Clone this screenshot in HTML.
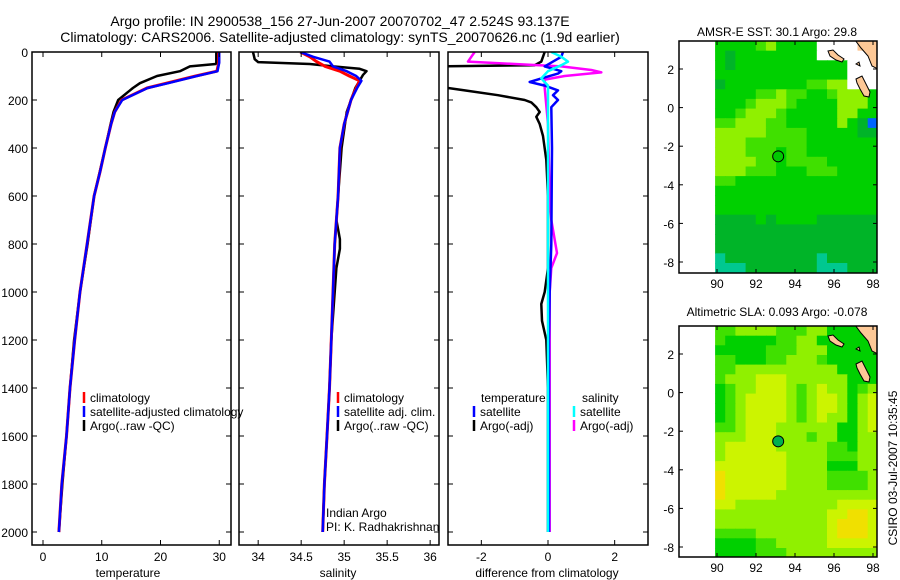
<!DOCTYPE html>
<html><head><meta charset="utf-8"><style>
html,body{margin:0;padding:0;background:#fff;}
svg{display:block;font-family:"Liberation Sans",sans-serif;}
</style></head><body>
<svg id="fig" width="900" height="580" viewBox="0 0 900 580" xmlns="http://www.w3.org/2000/svg">
<text x="340" y="26" font-size="14" text-anchor="middle">Argo profile: IN 2900538_156 27-Jun-2007 20070702_47 2.524S 93.137E</text>
<text x="340" y="42" font-size="14" text-anchor="middle">Climatology: CARS2006. Satellite-adjusted climatology: synTS_20070626.nc (1.9d earlier)</text>
<g id="plots"></g>
<text x="777" y="36" font-size="12" text-anchor="middle">AMSR-E SST: 30.1 Argo: 29.8</text>
<text x="777" y="316" font-size="12" text-anchor="middle">Altimetric SLA: 0.093 Argo: -0.078</text>
<text transform="translate(897,468) rotate(-90)" font-size="12" text-anchor="middle">CSIRO 03-Jul-2007 10:35:45</text>
</svg>
<script>
// ---- profile data ----
const depthsT = [0,45,80,100,130,150,200,250,300,400,500,600,800,1000,1200,1400,1600,1800,2000];
const tempClim = [29.9,29.9,29.6,26,21,17.7,13.4,12.2,11.6,10.6,9.7,8.7,7.5,6.3,5.4,4.6,4.0,3.2,2.7];
const tempSat  = [30.0,30.0,29.7,26.2,21.3,17.8,13.5,12.2,11.6,10.6,9.7,8.7,7.5,6.3,5.4,4.6,4.0,3.2,2.7];
const depthsTA = [0,45,50,60,80,100,130,150,200,250,300,400,600,800,1000,1200,1400,1600,1800,2000];
const tempArgo = [29.5,29.5,29.4,25,23.3,19.4,16.5,15.3,12.8,12.0,11.5,10.6,8.7,7.6,6.3,5.3,4.6,4.0,3.3,2.7];
const depthsS = [0,20,40,60,80,100,120,150,200,300,400,600,800,1000,1200,1400,1600,1800,2000];
const salClim = [34.49,34.6,34.68,34.78,34.95,35.06,35.18,35.14,35.08,35.0,34.95,34.93,34.89,34.87,34.85,34.83,34.8,34.77,34.75];
const salSat  = [34.49,34.64,34.83,34.87,35.03,35.14,35.2,35.15,35.08,35.0,34.95,34.93,34.89,34.87,34.85,34.83,34.8,34.77,34.75];
const depthsSA = [0,30,42,50,60,70,80,95,150,250,400,600,700,780,820,900,1000,1200,1400,1600,1800,2000];
const salArgo = [33.94,33.96,34.0,34.6,34.87,35.18,35.26,35.22,35.13,35.03,34.97,34.93,34.91,34.95,34.95,34.91,34.89,34.85,34.83,34.8,34.77,34.75];
const depthsDT = [0,40,55,60,100,140,150,160,180,200,210,230,250,270,300,350,450,600,900,1000,1050,1120,1200,1400,2000];
const diffTArgo = [-0.1,-0.2,-0.4,-3.5,-3.5,-3.2,-3.0,-2.5,-1.5,-0.7,-0.5,-0.35,-0.25,-0.35,-0.25,-0.15,-0.05,0,0,-0.1,-0.2,-0.18,-0.05,0,0];
const depthsDTS = [0,20,40,60,80,90,110,125,140,160,180,200,230,400,800,1000,1200,2000];
const diffTSat = [0.45,0.4,0.15,-0.1,0.4,0.3,-0.2,-0.55,-0.1,0.3,0.15,0.3,0.1,0.12,0.1,0.05,0.03,0.03];
const depthsDSS = [0,20,40,55,80,110,140,200,600,1000,2000];
const diffSSat = [0.1,0.4,0.6,0.4,0,-0.2,0,0,0,0,0];
const depthsDSA = [0,20,40,50,60,75,85,100,115,150,300,600,700,838,900,1000,1200,2000];
const diffSArgo = [-2.2,-2.3,-2.4,-1.0,0.4,1.3,1.6,0.5,-0.1,-0.1,0,0.05,0.1,0.27,0.1,0.05,0.05,0.05];
const depthTicks = [0,200,400,600,800,1000,1200,1400,1600,1800,2000];
const tempTicks = [0,10,20,30];
const salTicks = [34,34.5,35,35.5,36];
const diffTicks = [-2,0,2];
// ---- map data (0.5 deg rows from 3.45N, 16 cols from 89.9E) ----
const sstRows = ["2222342222WWWWLL","2122222222WWWWWW","2122222222222WWW","2222222222222WWW","1222222223344WWW","2222334332234442","2223444322224442","2234443222224422","3344433222224215","4444433332222211","4443333332222222","4443332332222222","4444332333322222","4443332223332222","3322222222222222","2222222222222222","2222222222222222","2222222222222222","1111212222111111","1111111111111111","1111111111111111","1111111111111111","0111111111011111","0001111111000111"];
const slaRows = ["3344443334422222","3222223344222222","2222233344422222","3322233444322222","3344444444442222","3444555444444222","2344555434544234","2345555434554245","2345555434554245","2345555434544245","3345554444442245","4445554443442244","4555554444433244","4555555444433344","5555555444422244","6555555444433334","6555555444433334","6555554444444444","5544444444445555","4444444444455665","4444444444456665","3333444444456665","2222334444455555","2222333444444444"];
const latTicks = [2,0,-2,-4,-6,-8];
const lonTicks = [90,92,94,96,98];
const argoLon = 93.137, argoLat = -2.524;
</script>
<script>
const NS="http://www.w3.org/2000/svg";
const G=document.getElementById('plots');
function mk(tag,attrs,parent){const e=document.createElementNS(NS,tag);for(const k in attrs)e.setAttribute(k,attrs[k]);(parent||G).appendChild(e);return e;}
function txt(s,x,y,anchor,size,parent){const t=mk('text',{x:x,y:y,'font-size':size||12,'text-anchor':anchor||'start'},parent);t.textContent=s;return t;}
const Y0=52, Y1=545;
function yD(d){return 52+d*0.24;}
function panel(name,x0,x1,xmin,xmax){
  const p={x0,x1,xmin,xmax,fx:v=>x0+(v-xmin)/(xmax-xmin)*(x1-x0)};
  const g=mk('g',{});
  
  
  p.g=g;
  const cp=mk('clipPath',{id:'clip-'+name},g);mk('rect',{x:x0,y:Y0,width:x1-x0,height:Y1-Y0},cp);
  p.lines=mk('g',{'clip-path':'url(#clip-'+name+')'},g);
  const r=mk('rect',{x:x0,y:Y0,width:x1-x0,height:Y1-Y0,fill:'none',stroke:'#000','stroke-width':1.5},g);
  
  
  depthTicks.forEach(d=>{const y=yD(d);mk('line',{x1:x0,x2:x0+5,y1:y,y2:y,stroke:'#000'},g);mk('line',{x1:x1,x2:x1-5,y1:y,y2:y,stroke:'#000'},g);});
  return p;
}
function line(p,ds,vs,color,w,name){
  const pts=ds.map((d,i)=>p.fx(vs[i]).toFixed(1)+','+yD(d).toFixed(1)).join(' ');
  const l=mk('polyline',{points:pts,fill:'none',stroke:color,'stroke-width':w,'stroke-linejoin':'round'},p.lines);
  
  
}
function xticks(p,ticks,label,lx){
  ticks.forEach(t=>{const x=p.fx(t);mk('line',{x1:x,x2:x,y1:Y1,y2:Y1-5,stroke:'#000'},p.g);mk('line',{x1:x,x2:x,y1:Y0,y2:Y0+5,stroke:'#000'},p.g);
    const tl=txt(String(t),x,561,'middle',12,p.g);});
  const al=txt(label,lx,577,'middle',12,p.g);
  
  
}
function legend(p,x,y,color,label){
  mk('line',{x1:x,x2:x,y1:y-10,y2:y+1,stroke:color,'stroke-width':2.5},p.g);
  const t=txt(label,x+6,y,'start',12,p.g);
  
  
}
// temperature panel
const pT=panel('temperature-panel',32,231,-1.87,32.0);
depthTicks.forEach(d=>{const t=txt(String(d),28,yD(d)+5,'end',12,pT.g);});
line(pT,depthsTA,tempArgo,'#000',2.5,'temp-argo-line');
line(pT,depthsT,tempClim,'#f00',3,'temp-climatology-line');
line(pT,depthsT,tempSat,'#00f',2.5,'temp-satellite-line');
xticks(pT,tempTicks,'temperature',128);
legend(pT,84,402,'#f00','climatology');
legend(pT,84,416,'#00f','satellite-adjusted climatology');
legend(pT,84,430,'#000','Argo(..raw -QC)');
// salinity panel
const pS=panel('salinity-panel',239,439,33.777,36.103);
line(pS,depthsSA,salArgo,'#000',2.5,'sal-argo-line');
line(pS,depthsS,salClim,'#f00',3,'sal-climatology-line');
line(pS,depthsS,salSat,'#00f',2.5,'sal-satellite-line');
xticks(pS,salTicks,'salinity',338);
legend(pS,338,402,'#f00','climatology');
legend(pS,338,416,'#00f','satellite adj. clim.');
legend(pS,338,430,'#000','Argo(..raw -QC)');
txt('Indian Argo',326,517,'start',12,pS.g);
txt('PI: K. Radhakrishnan',326,531,'start',12,pS.g);
// difference panel
const pD=panel('difference-panel',448,648,-3.0,3.0);
line(pD,depthsDT,diffTArgo,'#000',2.5,'diff-temp-argo-line');
line(pD,depthsDSA,diffSArgo,'#f0f',2.5,'diff-sal-argo-line');
line(pD,depthsDTS,diffTSat,'#00f',2.5,'diff-temp-satellite-line');
line(pD,depthsDSS,diffSSat,'#0ff',2.5,'diff-sal-satellite-line');
xticks(pD,diffTicks,'difference from climatology',547);
txt('temperature',481,402,'start',12,pD.g);
txt('salinity',582,402,'start',12,pD.g);
legend(pD,474,416,'#00f','satellite');
legend(pD,474,430,'#000','Argo(-adj)');
legend(pD,574,416,'#0ff','satellite');
legend(pD,574,430,'#f0f','Argo(-adj)');
// ---- maps ----
const colors={'0':'#00c890','1':'#00b428','2':'#00d000','3':'#40e000','4':'#90f000','5':'#ccf400','6':'#f0e000','W':'#ffffff','L':'#fdc896'};
function map(name,top,bottom,rows,markerColor){
  const x0=679,x1=877;
  const lonX=lon=>717+(lon-90)*19.5;
  const latY=lat=>(top+28)-(lat-2)*19.3;
  const g=mk('g',{});
  
  
  const cp=mk('clipPath',{id:'clip-'+name},g);mk('rect',{x:x0,y:top,width:x1-x0,height:bottom-top},cp);
  const cg=mk('g',{'clip-path':'url(#clip-'+name+')'},g);
  const dlon=(98.25-89.9)/16;
  rows.forEach((row,j)=>{for(let i=0;i<row.length;i++){
    const lonA=89.9+i*dlon, latA=3.45-j*0.5;
    const xa=lonX(lonA), xb=lonX(lonA+dlon), ya=latY(latA), yb=latY(latA-0.5);
    const c=row[i]==='5'&&name==='sst-map'?'#0064ff':colors[row[i]];
    const r=mk('rect',{x:xa.toFixed(1),y:ya.toFixed(1),width:(xb-xa+0.6).toFixed(1),height:(yb-ya+0.6).toFixed(1),fill:c},cg);
    
    
  }});
  const off=top-41;
  const land=(pts)=>{const p=mk('polygon',{points:pts.map(q=>q[0]+','+(q[1]+off)).join(' '),fill:'#fdc896',stroke:'#000','stroke-width':1},cg);};
  land([[855,40],[878,40],[878,69],[872,66],[868,56],[861,48]]);
  land([[828,51],[833,50],[838,55],[844,59],[842,62],[836,60],[830,56]]);
  land([[856,79],[862,76],[866,84],[870,92],[869,97],[864,96],[860,89],[857,83]]);
  land([[856,64],[859,62],[860,66]]);
  const m=mk('circle',{cx:lonX(argoLon),cy:latY(argoLat),r:5.5,fill:markerColor,stroke:'#000','stroke-width':1},g);
  
  
  const f=mk('rect',{x:x0,y:top,width:x1-x0,height:bottom-top,fill:'none',stroke:'#000','stroke-width':1.5},g);
  
  
  latTicks.forEach(l=>{const y=latY(l);mk('line',{x1:x0,x2:x0+4,y1:y,y2:y,stroke:'#000'},g);mk('line',{x1:x1,x2:x1-4,y1:y,y2:y,stroke:'#000'},g);
    const t=txt(String(l),674,y+5,'end',12,g);});
  lonTicks.forEach(l=>{const x=lonX(l);mk('line',{x1:x,x2:x,y1:bottom,y2:bottom-4,stroke:'#000'},g);mk('line',{x1:x,x2:x,y1:top,y2:top+4,stroke:'#000'},g);
    const t=txt(String(l),x,bottom+15,'middle',12,g);});
}
map('sst-map',41,273,sstRows,'#00c800');
map('sla-map',326,557,slaRows,'#00b050');
</script>
</body></html>
